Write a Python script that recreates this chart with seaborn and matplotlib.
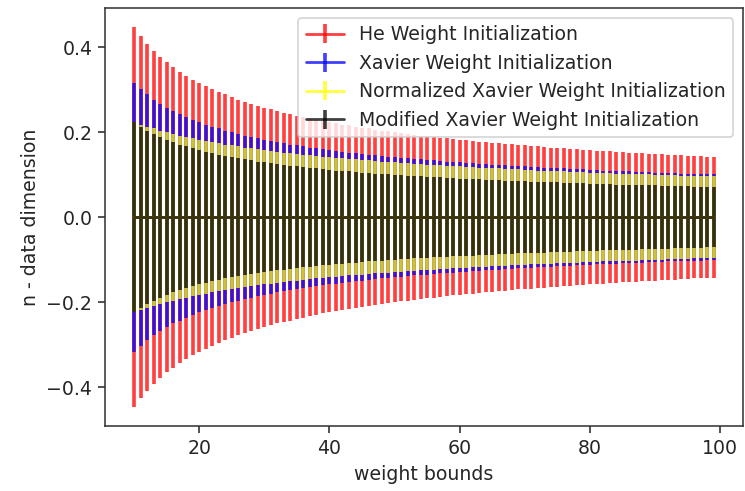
import numpy as np
import seaborn as sns
import matplotlib.pyplot as plt

# x positions: weight bounds 10..99
bounds = list(range(10, 100))

# half-widths of the error bars
he_init = [0.447, 0.426, 0.408, 0.392, 0.378, 0.365, 0.354, 0.343, 0.333, 0.324,
           0.316, 0.309, 0.302, 0.295, 0.289, 0.283, 0.277, 0.272, 0.267, 0.263,
           0.258, 0.254, 0.250, 0.246, 0.243, 0.239, 0.236, 0.232, 0.229, 0.226,
           0.224, 0.221, 0.218, 0.216, 0.213, 0.211, 0.209, 0.206, 0.204, 0.202,
           0.200, 0.198, 0.196, 0.194, 0.192, 0.191, 0.189, 0.187, 0.186, 0.184,
           0.183, 0.181, 0.180, 0.178, 0.177, 0.175, 0.174, 0.173, 0.172, 0.170,
           0.169, 0.168, 0.167, 0.166, 0.164, 0.163, 0.162, 0.161, 0.160, 0.159,
           0.158, 0.157, 0.156, 0.155, 0.154, 0.153, 0.152, 0.152, 0.151, 0.150,
           0.149, 0.148, 0.147, 0.147, 0.146, 0.145, 0.144, 0.144, 0.143, 0.142]

xavier_init = [0.316, 0.302, 0.289, 0.277, 0.267, 0.258, 0.250, 0.243, 0.236, 0.229,
               0.224, 0.218, 0.213, 0.209, 0.204, 0.200, 0.196, 0.192, 0.189, 0.186,
               0.183, 0.180, 0.177, 0.174, 0.171, 0.169, 0.167, 0.164, 0.162, 0.160,
               0.158, 0.156, 0.154, 0.152, 0.151, 0.149, 0.147, 0.146, 0.144, 0.143,
               0.141, 0.140, 0.139, 0.137, 0.136, 0.135, 0.134, 0.132, 0.131, 0.130,
               0.129, 0.128, 0.127, 0.126, 0.125, 0.124, 0.123, 0.122, 0.121, 0.120,
               0.120, 0.119, 0.118, 0.117, 0.116, 0.115, 0.115, 0.114, 0.113, 0.113,
               0.112, 0.111, 0.110, 0.110, 0.109, 0.108, 0.108, 0.107, 0.107, 0.106,
               0.105, 0.105, 0.104, 0.104, 0.103, 0.103, 0.102, 0.102, 0.101, 0.101]

norm_xavier_init = [0.224, 0.218, 0.213, 0.209, 0.204, 0.200, 0.196, 0.192, 0.189, 0.186,
                    0.183, 0.180, 0.177, 0.174, 0.171, 0.169, 0.167, 0.164, 0.162, 0.160,
                    0.158, 0.156, 0.154, 0.152, 0.151, 0.149, 0.147, 0.146, 0.144, 0.143,
                    0.141, 0.140, 0.139, 0.137, 0.136, 0.135, 0.134, 0.132, 0.131, 0.130,
                    0.129, 0.128, 0.127, 0.126, 0.125, 0.124, 0.123, 0.122, 0.121, 0.120,
                    0.120, 0.119, 0.118, 0.117, 0.116, 0.115, 0.115, 0.114, 0.113, 0.113,
                    0.112, 0.111, 0.110, 0.110, 0.109, 0.108, 0.108, 0.107, 0.107, 0.106,
                    0.105, 0.105, 0.104, 0.104, 0.103, 0.103, 0.102, 0.102, 0.101, 0.101,
                    0.100, 0.0995, 0.099, 0.099, 0.098, 0.098, 0.097, 0.097, 0.096, 0.096]

mod_xavier_init = [0.224, 0.213, 0.204, 0.196, 0.189, 0.183, 0.177, 0.171, 0.167, 0.162,
                   0.158, 0.154, 0.151, 0.147, 0.144, 0.141, 0.139, 0.136, 0.134, 0.131,
                   0.129, 0.127, 0.125, 0.123, 0.121, 0.120, 0.118, 0.116, 0.115, 0.113,
                   0.112, 0.110, 0.109, 0.108, 0.107, 0.105, 0.104, 0.103, 0.102, 0.101,
                   0.100, 0.099, 0.098, 0.097, 0.096, 0.095, 0.094, 0.094, 0.093, 0.092,
                   0.091, 0.091, 0.090, 0.089, 0.088, 0.088, 0.087, 0.086, 0.086, 0.085,
                   0.085, 0.084, 0.083, 0.083, 0.082, 0.082, 0.081, 0.081, 0.080, 0.080,
                   0.079, 0.079, 0.078, 0.078, 0.077, 0.077, 0.076, 0.076, 0.075, 0.075,
                   0.075, 0.074, 0.074, 0.073, 0.073, 0.073, 0.072, 0.072, 0.071, 0.071]

series = [
    ('He Weight Initialization', he_init, 'red'),
    ('Xavier Weight Initialization', xavier_init, 'blue'),
    ('Normalized Xavier Weight Initialization', norm_xavier_init, 'yellow'),
    ('Modified Xavier Weight Initialization', mod_xavier_init, 'black'),
]

fs = 10.9
sns.set_theme(style="ticks", rc={
    "font.size": fs, "axes.labelsize": fs, "xtick.labelsize": fs,
    "ytick.labelsize": fs, "legend.fontsize": fs,
    "axes.linewidth": 0.9, "axes.edgecolor": "#333333",
    "xtick.major.size": 3.8, "ytick.major.size": 3.8,
    "xtick.major.width": 0.9, "ytick.major.width": 0.9,
    "lines.linewidth": 1.6,
})

fig = plt.figure(figsize=(5.96, 3.928), dpi=125)
ax = fig.add_axes([0.141, 0.132, 0.856, 0.851])

zeros = np.zeros(len(bounds))
for label, err, color in series:
    ax.errorbar(bounds, zeros, yerr=err, color=color, alpha=0.75,
                elinewidth=2.1, capsize=0, label=label)

ax.set_xlabel('weight bounds')
ax.set_ylabel('n - data dimension')
ax.legend(loc='upper right')

fig.savefig('out.png', dpi=125)
